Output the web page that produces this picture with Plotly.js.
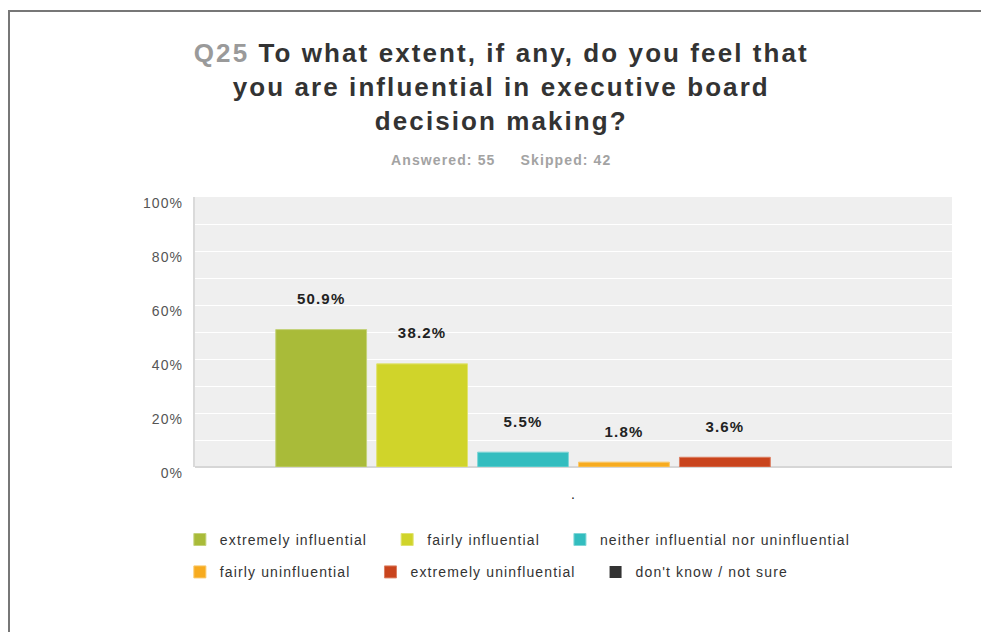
<!DOCTYPE html>
<html>
<head>
<meta charset="utf-8">
<script src="https://cdn.plot.ly/plotly-3.0.1.min.js"></script>
<style>
  body { margin: 0; background: #fff; }
  #myPlot { width: 981px; height: 632px; }
  svg text { letter-spacing: 0.08em; }
  #frame { position: absolute; left: 8px; top: 10px; right: 0; bottom: 0;
           border-top: 2px solid #777; border-left: 2px solid #777; pointer-events: none; }
</style>
</head>
<body>
<div id="myPlot"></div>
<div id="frame"></div>
<script>
// survey answers
var category = ['.'];
var choices = ['extremely influential', 'fairly influential', 'neither influential nor uninfluential',
               'fairly uninfluential', 'extremely uninfluential', "don't know / not sure"];
var percents = [50.9, 38.2, 5.5, 1.8, 3.6, 0];
var colors = ['#a9bb39', '#d0d42a', '#33bdbf', '#f7ab1f', '#c9441d', '#333333'];
var borders = ['#c4d27a', '#e0e36f', '#7fd6d7', '#f9c86a', '#dc7f62', '#666666'];
var answered = 55;
var skipped = 42;
var question = 'Q25';
var questionText = 'To what extent, if any, do you feel that<br>you are influential in executive board<br>decision making?';

var font = 'Liberation Sans, Arial, sans-serif';
var pad = '\u00a0\u00a0\u00a0';

var data = [];
for (var i = 0; i < choices.length; i++) {
	data.push({
		type: 'bar',
		x: category,
		y: [percents[i]],
		name: choices[i] + pad,
		text: [percents[i] > 0 ? percents[i].toFixed(1) + '%<br> ' : ''],
		textposition: 'outside',
		cliponaxis: false,
		textfont: { family: font, size: 15, color: '#222', weight: 'bold' },
		marker: { color: colors[i], line: { color: borders[i], width: percents[i] > 0 ? 1 : 0 } },
		legend: i < 3 ? 'legend' : 'legend2',
		hoverinfo: 'none'
	});
}

var legendFont = { family: font, size: 14, color: '#333' };

var layout = {
	width: 981,
	height: 632,
	margin: { l: 195, r: 29, t: 197, b: 165 },
	paper_bgcolor: '#ffffff',
	plot_bgcolor: '#efefef',
	font: { family: font, color: '#555' },
	title: {
		text: '<span style="color:#9a9a9a">' + question + '</span> ' + questionText,
		font: { family: font, size: 26, color: '#333', weight: 'bold' },
		x: 0.511, xanchor: 'center',
		y: 1 - 62 / 632, yanchor: 'middle', yref: 'container'
	},
	annotations: [{
		text: 'Answered: ' + answered + '\u00a0\u00a0\u00a0\u00a0\u00a0Skipped: ' + skipped,
		xref: 'paper', yref: 'paper',
		x: (501 - 195) / 757, y: (467 - 160) / 270, xanchor: 'center', yanchor: 'middle',
		showarrow: false,
		font: { family: font, size: 14, color: '#a3a3a3', weight: 'bold' }
	}],
	barmode: 'group',
	bargap: 0.2,
	bargroupgap: 0.1,
	xaxis: {
		type: 'category',
		showgrid: false,
		zeroline: false,
		showline: false,
		tickfont: { size: 14, color: '#222' },
		ticks: 'outside', ticklen: 14, tickcolor: 'rgba(0,0,0,0)'
	},
	yaxis: {
		range: [0, 100],
		dtick: 20,
		ticksuffix: '%',
		showgrid: true,
		gridcolor: '#ffffff',
		gridwidth: 1,
		minor: { dtick: 10, showgrid: true, gridcolor: '#ffffff', gridwidth: 1 },
		zeroline: true,
		zerolinecolor: '#d6d6d6',
		zerolinewidth: 2,
		showline: true,
		linecolor: '#dadada',
		linewidth: 2,
		ticks: 'outside', ticklen: 7, tickcolor: 'rgba(0,0,0,0)',
		ticklabelshift: 6,
		tickfont: { size: 14, color: '#555' }
	},
	legend: {
		orientation: 'h',
		x: -0.02, xanchor: 'left',
		y: -0.27, yanchor: 'middle',
		font: legendFont,
		itemclick: false
	},
	legend2: {
		orientation: 'h',
		x: -0.02, xanchor: 'left',
		y: -0.39, yanchor: 'middle',
		font: legendFont,
		itemclick: false
	},
	showlegend: true
};

Plotly.newPlot('myPlot', data, layout, { displayModeBar: false, staticPlot: true });
</script>
</body>
</html>
